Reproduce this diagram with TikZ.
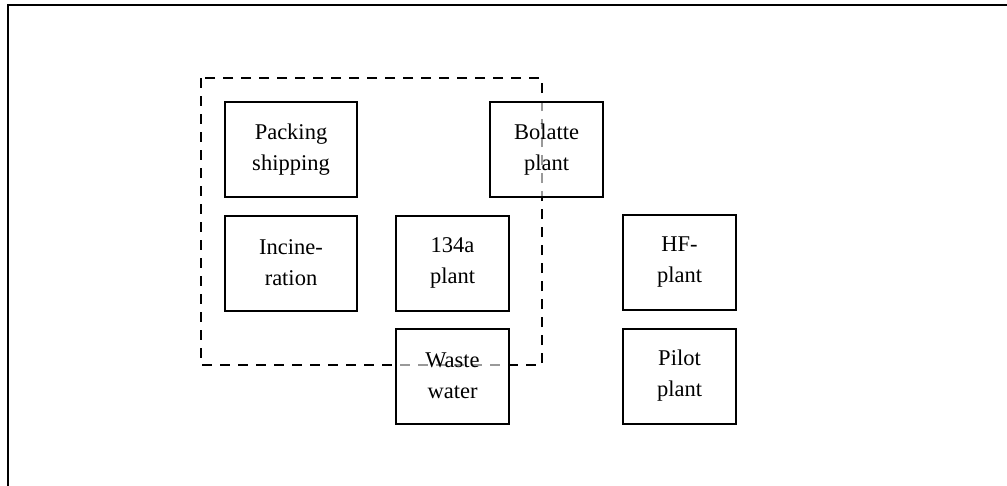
\documentclass[tikz,border=0pt]{standalone}
\usepackage{fontspec}
\setmainfont{Liberation Serif}
\begin{document}
\begin{tikzpicture}[x=1pt,y=-1pt,
  unit/.style={draw=black, line width=2pt, fill=white, fill opacity=0.6, text opacity=1,
    rectangle, inner sep=0pt, outer sep=0pt, align=center,
    font=\fontsize{22.5}{31}\selectfont},
  wide/.style={minimum width=132pt, minimum height=95pt},
  narrow/.style={minimum width=113pt, minimum height=95pt},
  group/.style={draw=black, line width=2.4pt, dash pattern=on 10pt off 8pt}]
\useasboundingbox (0,0) rectangle (1007,485);
% outer frame (right and bottom edges lie outside the picture)
\draw[line width=2.2pt] (8,5) rectangle (1030,510);
% dashed group boundary
\coordinate (g1) at (201,78);
\coordinate (g2) at (542,365);
\draw[group] (g1) rectangle (g2);
% units
\node[unit,wide]   (pack) at (291,149.5) {Packing\\shipping};
\node[unit,narrow] (bol)  at (546.5,149.5) {Bolatte\\plant};
\node[unit,wide]   (inc)  at (291,263) {Incine-\\ration};
\node[unit,narrow] (p134) at (452.5,263) {134a\\plant};
\node[unit,narrow] (hf)   at (679.5,262.5) {HF-\\plant};
\node[unit,narrow] (ww)   at (452.5,376) {Waste\\water};
\node[unit,narrow] (pil)  at (679.5,376) {Pilot\\plant};
\end{tikzpicture}
\end{document}
